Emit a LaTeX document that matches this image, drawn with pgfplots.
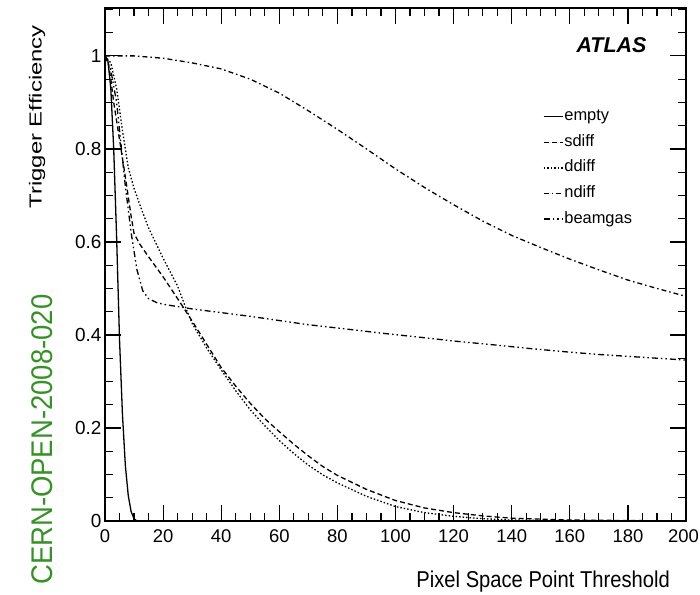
\documentclass[border=0pt]{standalone}
\usepackage{fontspec}
\setmainfont{Liberation Sans}
\newfontfamily\xlabfont[FakeStretch=0.88]{Liberation Sans}
\newfontfamily\ylabfont[FakeStretch=1.37]{Liberation Sans}
\newfontfamily\greenfont[FakeStretch=0.92]{Liberation Sans}
\usepackage{pgfplots}
\pgfplotsset{compat=1.18}
\definecolor{cerngreen}{RGB}{56,145,40}
\begin{document}
\begin{tikzpicture}
\path[use as bounding box] (0bp,0bp) rectangle (700bp,595bp);
\begin{axis}[
  at={(105bp,74bp)}, anchor=south west,
  scale only axis, width=581bp, height=513bp,
  xmin=0, xmax=200, ymin=0, ymax=1.103,
  xtick={0,20,...,200},
  xticklabels={0,20,40,60,80,100,120,140,160,180,\hspace*{-5bp}200},
  minor xtick={5,10,15,25,30,35,45,50,55,65,70,75,85,90,95,105,110,115,125,130,135,145,150,155,165,170,175,185,190,195},
  ytick={0,0.2,0.4,0.6,0.8,1},
  yticklabels={0,0.2,0.4,0.6,0.8,1},
  minor ytick={0.05,0.1,0.15,0.25,0.3,0.35,0.45,0.5,0.55,0.65,0.7,0.75,0.85,0.9,0.95,1.05},
  tick align=inside,
  xtick pos=both, ytick pos=both,
  major tick length=16bp,
  minor tick length=8bp,
  tick style={draw=black, line width=1.2bp},
  axis line style={line width=1.4bp},
  /pgf/number format/assume math mode=true,
  xticklabel style={font=\fontsize{18.5}{18.5}\selectfont, yshift=-5bp},
  yticklabel style={font=\fontsize{19}{19}\selectfont, xshift=0bp},
  legend style={at={(axis description cs:0.754,0.8057)}, anchor=north west,
    draw=none, fill=none, inner sep=0pt, outer sep=0pt,
    font=\fontsize{16.5}{16.5}\selectfont, row sep=7.6bp,
    nodes={inner sep=1bp, text height=12bp, text depth=4bp},
    /tikz/every even column/.append style={column sep=3bp}},
  legend image code/.code={\draw[#1] (0bp,0bp) -- (19bp,0bp);},
  legend cell align=left,
]
% empty
\addplot[black, line width=1.3bp] coordinates {
(0,1) (1,0.99) (2,0.93) (3,0.80) (4,0.61) (5,0.39) (6,0.23) (7,0.12) (8,0.055) (9,0.02) (10,0.005) (11,0) (200,0)};
\addlegendentry{empty}
% sdiff
\addplot[black, line width=1.3bp, dash pattern=on 5bp off 3bp] coordinates {
(0,1) (1,0.99) (2,0.95) (3,0.90) (5,0.82) (7,0.74) (9,0.655) (10,0.618) (12,0.595) (15,0.568) (20,0.525) (25,0.478) (30,0.43) (35,0.38) (40,0.33) (45,0.29) (50,0.253) (55,0.22) (60,0.192) (65,0.165) (70,0.14) (75,0.117) (80,0.098) (90,0.068) (100,0.044) (110,0.028) (120,0.018) (130,0.011) (140,0.006) (160,0.002) (180,0.001) (200,0)};
\addlegendentry{sdiff}
% ddiff
\addplot[black, line width=1.3bp, dash pattern=on 1.5bp off 2bp] coordinates {
(0,1) (2,0.985) (4,0.93) (6,0.84) (8,0.76) (10,0.715) (12,0.68) (15,0.63) (20,0.565) (25,0.505) (28,0.455) (30,0.425) (35,0.372) (40,0.325) (45,0.28) (50,0.239) (55,0.205) (60,0.173) (65,0.145) (70,0.12) (75,0.099) (80,0.082) (90,0.053) (100,0.031) (110,0.018) (120,0.01) (130,0.005) (140,0.002) (160,0.001) (200,0)};
\addlegendentry{ddiff}
% ndiff
\addplot[black, line width=1.3bp, dash pattern=on 5bp off 3bp on 1.5bp off 3bp] coordinates {
(0,1) (10,1.0) (20,0.995) (30,0.985) (40,0.972) (50,0.95) (60,0.92) (70,0.882) (80,0.842) (90,0.80) (100,0.757) (110,0.717) (120,0.68) (130,0.645) (140,0.614) (150,0.588) (160,0.563) (170,0.54) (180,0.518) (190,0.50) (200,0.483)};
\addlegendentry{ndiff}
% beamgas
\addplot[black, line width=1.3bp, dash pattern=on 6bp off 3bp on 1.5bp off 3bp on 1.5bp off 3bp] coordinates {
(0,1) (2,0.97) (4,0.90) (5,0.84) (7,0.72) (9,0.62) (11,0.54) (13,0.495) (15,0.478) (18,0.469) (21,0.465) (25,0.461) (30,0.456) (40,0.448) (50,0.44) (60,0.431) (70,0.422) (80,0.415) (95,0.404) (110,0.394) (120,0.387) (135,0.378) (146,0.371) (160,0.363) (170,0.358) (185,0.352) (200,0.346)};
\addlegendentry{beamgas}
\end{axis}
% tick marks (inside, on all four sides)
\foreach \i in {1,...,39} {
  \pgfmathsetmacro\xx{105+14.525*\i}
  \pgfmathsetmacro\tlen{mod(\i,4)==0 ? 16 : 8}
  \draw[line width=1.2bp] (\xx bp,74bp) -- ++(0bp,\tlen bp);
  \draw[line width=1.2bp] (\xx bp,587bp) -- ++(0bp,-\tlen bp);
}
\foreach \k in {1,...,22} {
  \pgfmathsetmacro\yy{74+23.255*\k}
  \pgfmathsetmacro\tlen{mod(\k,4)==0 ? 16 : 8}
  \draw[line width=1.2bp] (105bp,\yy bp) -- ++(\tlen bp,0bp);
  \draw[line width=1.2bp] (686bp,\yy bp) -- ++(-\tlen bp,0bp);
}
\node[rotate=90, anchor=east, inner sep=0pt, font=\ylabfont\fontsize{17.5}{17.5}\selectfont] at (37bp,570bp) {Trigger Efficiency};
\node[anchor=base east, inner sep=0pt, font=\xlabfont\fontsize{23}{23}\selectfont] at (670bp,8bp) {Pixel Space Point Threshold};
\node[anchor=base, inner sep=0pt, font=\bfseries\itshape\fontsize{21.5}{21.5}\selectfont] at (611.5bp,542bp) {ATLAS};
\node[rotate=90, anchor=base west, inner sep=0pt, text=cerngreen, font=\greenfont\fontsize{30}{30}\selectfont] at (52bp,10bp) {CERN-OPEN-2008-020};
\end{tikzpicture}
\end{document}
